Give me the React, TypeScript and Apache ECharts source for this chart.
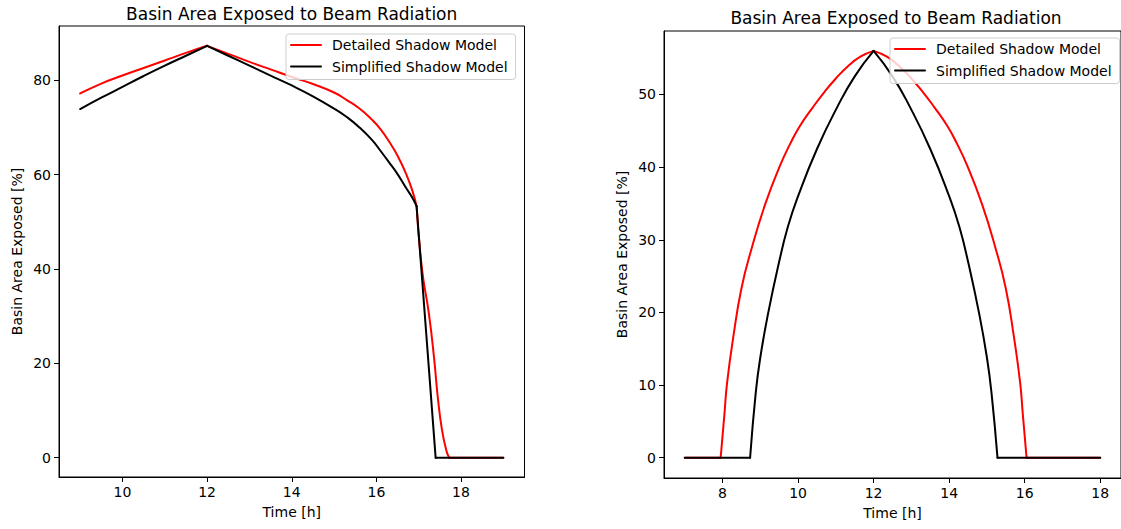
import React, { useEffect, useRef } from "react";
import * as echarts from "echarts";

const TITLE = "Basin Area Exposed to Beam Radiation";
const X_NAME = "Time [h]";
const Y_NAME = "Basin Area Exposed [%]";
const SERIES_NAMES = ["Detailed Shadow Model", "Simplified Shadow Model"];

const leftXTicks = [10, 12, 14, 16, 18];
const leftYTicks = [0, 20, 40, 60, 80];
const rightXTicks = [8, 10, 12, 14, 16, 18];
const rightYTicks = [0, 10, 20, 30, 40, 50];

// [time h, exposed %]
const leftDetailed = [
  [9, 77.2], [9.5, 79.3], [10, 81.0], [10.5, 82.6], [11, 84.2], [11.5, 85.8], [12, 87.3],
  [12.5, 85.6], [13, 83.9], [13.5, 82.3], [14, 80.7], [14.5, 79.2], [15, 77.4], [15.3, 75.8],
  [15.6, 74.0], [15.9, 71.6], [16.1, 69.6], [16.3, 67.0], [16.5, 64.0], [16.7, 60.2],
  [16.85, 56.6], [16.95, 53.3], [17.08, 39.8], [17.24, 30.6], [17.36, 21.4], [17.45, 12.9],
  [17.55, 5.9], [17.66, 1.3], [17.72, 0], [19, 0],
];
const leftSimplified = [
  [9, 73.9], [9.5, 76.3], [10, 78.6], [10.5, 80.9], [11, 83.1], [11.5, 85.2], [12, 87.3],
  [12.5, 85.2], [13, 83.1], [13.5, 81.0], [14, 78.9], [14.5, 76.6], [15, 74.0], [15.3, 72.2],
  [15.6, 70.0], [15.9, 67.3], [16.1, 65.0], [16.3, 62.6], [16.5, 60.1], [16.7, 57.2],
  [16.85, 55.1], [16.95, 53.3], [17.4, 0], [19, 0],
];
const rightDetailed = [
  [7, 0], [7.95, 0], [8.05, 6.0], [8.12, 10.3], [8.29, 16.8], [8.5, 23.3], [8.77, 28.8],
  [9.13, 34.9], [9.53, 40.3], [9.8, 43.3], [10.04, 45.6], [10.4, 48.3], [10.69, 50.3],
  [11.0, 52.2], [11.3, 53.8], [11.65, 55.2], [12, 56.0], [12.35, 55.2], [12.7, 53.8],
  [13.0, 52.2], [13.31, 50.3], [13.6, 48.3], [13.96, 45.6], [14.2, 43.3], [14.47, 40.3],
  [14.87, 34.9], [15.23, 28.8], [15.5, 23.3], [15.71, 16.8], [15.88, 10.3], [15.95, 6.0],
  [16.05, 0], [18, 0],
];
const rightSimplified = [
  [7, 0], [8.73, 0], [8.88, 9.0], [9.0, 13.8], [9.2, 19.7], [9.5, 27.0], [9.73, 31.8],
  [10.0, 36.0], [10.5, 42.5], [11.04, 48.3], [11.5, 52.5], [12, 56.0], [12.5, 52.5],
  [12.96, 48.3], [13.5, 42.5], [14.0, 36.0], [14.27, 31.8], [14.5, 27.0], [14.8, 19.7],
  [15.0, 13.8], [15.12, 9.0], [15.28, 0], [18, 0],
];

// times (h) where a curve has a visible corner (peak / shadow onset)
const leftDetailedCorners = [12, 16.95];
const leftSimplifiedCorners = [12, 16.95];
const rightDetailedCorners = [12];
const rightSimplifiedCorners = [12];

const FONT = "DejaVu Sans";
const COLORS = ["#ff0000", "#000000"];

function splitPieces(data: number[][], corners: number[]) {
  const n = data.length;
  const breaks: number[] = [0];
  for (let i = 1; i < n - 1; i++) {
    const y = data[i][1];
    const isCorner = corners.indexOf(data[i][0]) >= 0;
    const zeroEdge = y === 0 && (data[i - 1][1] !== 0 || data[i + 1][1] !== 0);
    if (isCorner || zeroEdge) breaks.push(i);
  }
  breaks.push(n - 1);
  const pieces: number[][][] = [];
  for (let k = 0; k < breaks.length - 1; k++) {
    pieces.push(data.slice(breaks[k], breaks[k + 1] + 1));
  }
  return pieces;
}

function xAxisOf(gridIndex: number, min: number, max: number, ticks: number[]) {
  return {
    type: "value",
    gridIndex,
    min,
    max,
    name: X_NAME,
    nameLocation: "middle",
    nameGap: 28,
    nameTextStyle: { fontFamily: FONT, fontSize: 14, color: "#000" },
    axisLine: { show: true, onZero: false, lineStyle: { color: "#000", width: 1 } },
    axisTick: { show: true, inside: false, length: 5, customValues: ticks, lineStyle: { color: "#000", width: 1 } },
    axisLabel: { customValues: ticks, margin: 8, fontFamily: FONT, fontSize: 14, color: "#000" },
    splitLine: { show: false },
  };
}

function yAxisOf(gridIndex: number, min: number, max: number, ticks: number[]) {
  return {
    type: "value",
    gridIndex,
    min,
    max,
    name: Y_NAME,
    nameLocation: "middle",
    nameGap: 35,
    nameTextStyle: { fontFamily: FONT, fontSize: 14, color: "#000" },
    axisLine: { show: true, onZero: false, lineStyle: { color: "#000", width: 1 } },
    axisTick: { show: true, inside: false, length: 5, customValues: ticks, lineStyle: { color: "#000", width: 1 } },
    axisLabel: { customValues: ticks, margin: 8, fontFamily: FONT, fontSize: 14, color: "#000" },
    splitLine: { show: false },
  };
}

function legendOf(left: number, top: number) {
  return {
    orient: "vertical",
    left,
    top,
    data: SERIES_NAMES,
    itemWidth: 30,
    itemHeight: 14,
    itemGap: 7.5,
    padding: [4, 8, 6, 4],
    backgroundColor: "rgba(255,255,255,0.8)",
    borderColor: "#cccccc",
    borderWidth: 1,
    borderRadius: 3,
    selectedMode: false,
    itemStyle: { opacity: 0 },
    lineStyle: { width: 2 },
    textStyle: { fontFamily: FONT, fontSize: 14, color: "#000", lineHeight: 14, padding: [0, 0, 0, 6] },
  };
}

function seriesFor(name: string, color: string, idx: number, data: number[][], corners: number[]) {
  return splitPieces(data, corners).map((piece) => ({
    type: "line",
    name,
    xAxisIndex: idx,
    yAxisIndex: idx,
    data: piece,
    symbol: "none",
    showSymbol: false,
    smooth: 0.5,
    lineStyle: { color, width: 2, cap: "round", join: "round" },
    itemStyle: { color },
    clip: true,
  }));
}

export default function App() {
  const ref = useRef<HTMLDivElement>(null);
  useEffect(() => {
    if (!ref.current) return;
    const chart = echarts.init(ref.current, undefined, { renderer: "svg" });
    chart.setOption({
      animation: false,
      backgroundColor: "#ffffff",
      title: [
        {
          text: TITLE,
          left: 291.7,
          top: 13.5,
          textAlign: "center",
          textVerticalAlign: "middle",
          padding: 0,
          textStyle: { fontFamily: FONT, fontSize: 17, fontWeight: "normal", color: "#000" },
        },
        {
          text: TITLE,
          left: 896,
          top: 18,
          textAlign: "center",
          textVerticalAlign: "middle",
          padding: 0,
          textStyle: { fontFamily: FONT, fontSize: 17, fontWeight: "normal", color: "#000" },
        },
      ],
      grid: [
        { left: 59, top: 26, width: 465.5, height: 451, show: true, borderColor: "#000", borderWidth: 1, backgroundColor: "transparent" },
        { left: 664, top: 31, width: 464.5, height: 447, show: true, borderColor: "#000", borderWidth: 1, backgroundColor: "transparent" },
      ],
      xAxis: [xAxisOf(0, 8.5, 19.5, leftXTicks), xAxisOf(1, 6.45, 18.55, rightXTicks)],
      yAxis: [yAxisOf(0, -4.1, 91.5, leftYTicks), yAxisOf(1, -2.79, 58.74, rightYTicks)],
      legend: [legendOf(286, 34), legendOf(890, 38)],
      series: [
        ...seriesFor(SERIES_NAMES[0], COLORS[0], 0, leftDetailed, leftDetailedCorners),
        ...seriesFor(SERIES_NAMES[1], COLORS[1], 0, leftSimplified, leftSimplifiedCorners),
        ...seriesFor(SERIES_NAMES[0], COLORS[0], 1, rightDetailed, rightDetailedCorners),
        ...seriesFor(SERIES_NAMES[1], COLORS[1], 1, rightSimplified, rightSimplifiedCorners),
      ],
    });
    return () => chart.dispose();
  }, []);
  return (
    <div
      ref={ref}
      style={{ position: "absolute", left: 0, top: 0, width: 1121, height: 529, background: "#fff" }}
    />
  );
}
